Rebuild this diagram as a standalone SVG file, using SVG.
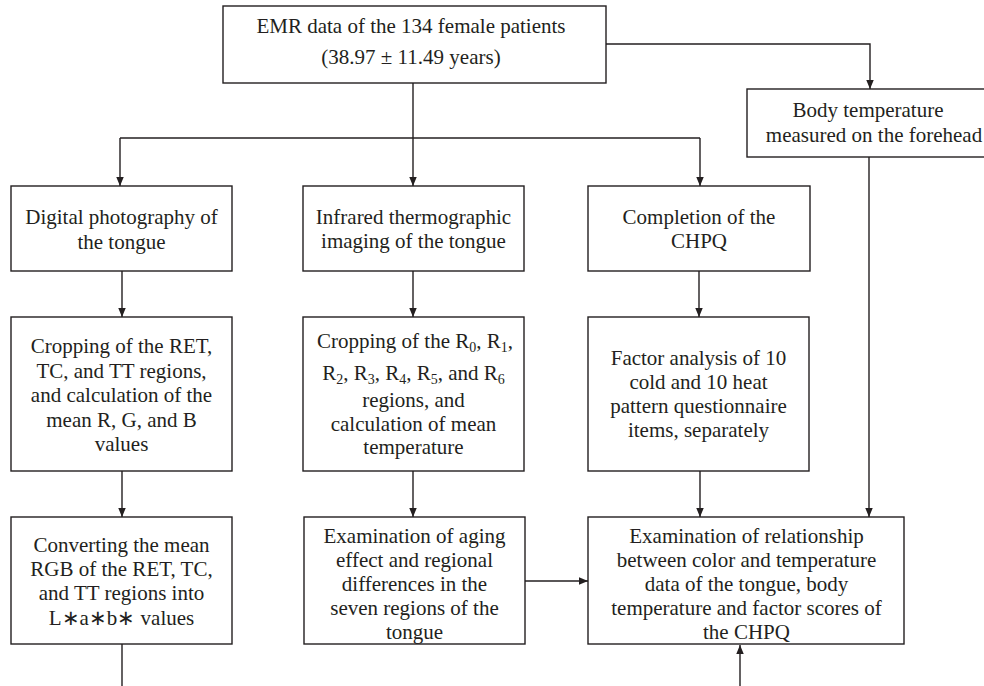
<svg xmlns="http://www.w3.org/2000/svg" width="984" height="686" viewBox="0 0 984 686">
<defs>
<marker id="arr" markerUnits="userSpaceOnUse" markerWidth="9" markerHeight="8" refX="9" refY="3.75" orient="auto">
<path d="M0,0 L9,3.75 L0,7.5 z" fill="#231f20"/>
</marker>
<style>
.box{fill:#fff;stroke:#231f20;stroke-width:1.4}
.c{fill:none;stroke:#231f20;stroke-width:1.4}
text{font-family:"Liberation Serif","Times New Roman",serif;font-size:21px;fill:#231f20;text-anchor:middle}
.sub{font-size:14px}
</style>
</defs>
<rect width="984" height="686" fill="#fff"/>
<g id="connectors">
<path class="c" d="M413,83 V186" marker-end="url(#arr)"/>
<path class="c" d="M120,138 H700"/>
<path class="c" d="M120,138 V186" marker-end="url(#arr)"/>
<path class="c" d="M700,138 V186" marker-end="url(#arr)"/>
<path class="c" d="M606,44 H870 V89" marker-end="url(#arr)"/>
<path class="c" d="M122,271 V317" marker-end="url(#arr)"/>
<path class="c" d="M413,271 V317" marker-end="url(#arr)"/>
<path class="c" d="M699,271 V317" marker-end="url(#arr)"/>
<path class="c" d="M122,471 V517" marker-end="url(#arr)"/>
<path class="c" d="M413,471 V517" marker-end="url(#arr)"/>
<path class="c" d="M700,471 V517" marker-end="url(#arr)"/>
<path class="c" d="M869,157 V517" marker-end="url(#arr)"/>
<path class="c" d="M525,581 H588" marker-end="url(#arr)"/>
<path class="c" d="M122,644 V686"/>
<path class="c" d="M740,686 V645" marker-end="url(#arr)"/>
</g>
<g id="emr">
<rect class="box" x="223" y="6" width="383" height="77"/>
<text x="411" y="33">EMR data of the 134 female patients</text>
<text x="411" y="64">(38.97 ± 11.49 years)</text>
</g>
<g id="bodytemp">
<rect class="box" x="747" y="89" width="250" height="68"/>
<text x="868" y="117">Body temperature</text>
<text x="874" y="142">measured on the forehead</text>
</g>
<g id="digital">
<rect class="box" x="11" y="186" width="221" height="85"/>
<text x="121.5" y="224">Digital photography of</text>
<text x="121.5" y="248.5">the tongue</text>
</g>
<g id="infrared">
<rect class="box" x="303" y="186" width="221" height="85"/>
<text x="413.5" y="223.5">Infrared thermographic</text>
<text x="413.5" y="248">imaging of the tongue</text>
</g>
<g id="chpq">
<rect class="box" x="588" y="186" width="222" height="85"/>
<text x="699" y="223.5">Completion of the</text>
<text x="699" y="248">CHPQ</text>
</g>
<g id="crop-rgb">
<rect class="box" x="11" y="317" width="221" height="154"/>
<text x="121.5" y="353">Cropping of the RET,</text>
<text x="121.5" y="377.5">TC, and TT regions,</text>
<text x="121.5" y="402">and calculation of the</text>
<text x="121.5" y="426.5">mean R, G, and B</text>
<text x="121.5" y="450.5">values</text>
</g>
<g id="crop-temp">
<rect class="box" x="303" y="317" width="221" height="154"/>
<text x="415" y="348">Cropping of the R<tspan class="sub" dy="4">0</tspan><tspan dy="-4">, R</tspan><tspan class="sub" dy="4">1</tspan><tspan dy="-4">,</tspan></text>
<text x="413.5" y="380">R<tspan class="sub" dy="4">2</tspan><tspan dy="-4">, R</tspan><tspan class="sub" dy="4">3</tspan><tspan dy="-4">, R</tspan><tspan class="sub" dy="4">4</tspan><tspan dy="-4">, R</tspan><tspan class="sub" dy="4">5</tspan><tspan dy="-4">, and R</tspan><tspan class="sub" dy="4">6</tspan></text>
<text x="413.5" y="407">regions, and</text>
<text x="413.5" y="430.5">calculation of mean</text>
<text x="413.5" y="454">temperature</text>
</g>
<g id="factor">
<rect class="box" x="588" y="317" width="221" height="154"/>
<text x="698.5" y="365">Factor analysis of 10</text>
<text x="698.5" y="389">cold and 10 heat</text>
<text x="698.5" y="413">pattern questionnaire</text>
<text x="698.5" y="437">items, separately</text>
</g>
<g id="convert">
<rect class="box" x="11" y="517" width="221" height="127"/>
<text x="121.5" y="551.5">Converting the mean</text>
<text x="121.5" y="575.5">RGB of the RET, TC,</text>
<text x="121.5" y="600">and TT regions into</text>
<text x="121.5" y="624.5">L∗a∗b∗ values</text>
</g>
<g id="aging">
<rect class="box" x="304" y="517" width="221" height="127"/>
<text x="414.5" y="542.5">Examination of aging</text>
<text x="414.5" y="566.5">effect and regional</text>
<text x="414.5" y="590.5">differences in the</text>
<text x="414.5" y="615">seven regions of the</text>
<text x="414.5" y="638.5">tongue</text>
</g>
<g id="relationship">
<rect class="box" x="588" y="517" width="316" height="127"/>
<text x="746.5" y="542.5">Examination of relationship</text>
<text x="746.5" y="566.5">between color and temperature</text>
<text x="746.5" y="590.5">data of the tongue, body</text>
<text x="746.5" y="615">temperature and factor scores of</text>
<text x="746.5" y="638.5">the CHPQ</text>
</g>
</svg>
